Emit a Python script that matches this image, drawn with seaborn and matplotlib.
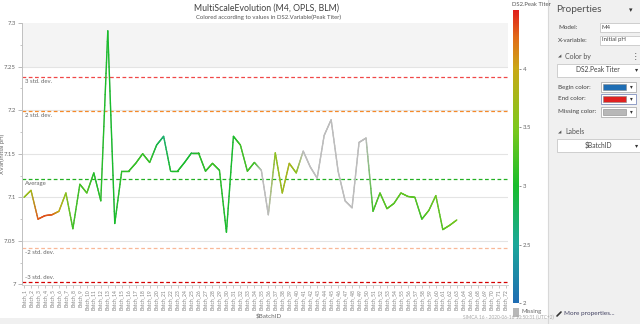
import numpy as np
import pandas as pd
import matplotlib
matplotlib.use("Agg")
import matplotlib.pyplot as plt
import seaborn as sns
from matplotlib.collections import LineCollection
from matplotlib.colors import LinearSegmentedColormap, Normalize, to_rgb
from matplotlib.cm import ScalarMappable
import matplotlib.patches as mpatches
from matplotlib.lines import Line2D

# ---------------- data ----------------
batch_numbers = list(range(1, 65)) + [66, 68, 69, 70, 71, 72]
batch_labels = [f"Batch_{n}" for n in batch_numbers]

ph_values = [
    7.100, 7.108, 7.075, 7.079, 7.080, 7.084, 7.105, 7.064, 7.115, 7.105,
    7.128, 7.096, 7.291, 7.070, 7.130, 7.130, 7.139, 7.150, 7.140, 7.160,
    7.170, 7.130, 7.130, 7.140, 7.151, 7.151, 7.130, 7.139, 7.131, 7.060,
    7.170, 7.160, 7.130, 7.140, 7.131, 7.080, 7.151, 7.105, 7.139, 7.128,
    7.153, 7.135, 7.122, 7.171, 7.189, 7.130, 7.096, 7.088, 7.163, 7.168,
    7.084, 7.105, 7.087, 7.093, 7.105, 7.101, 7.100, 7.075, 7.085, 7.102,
    7.063, 7.068, 7.074,
]
nan = float("nan")
titer_values = [
    3.6, 3.75, 4.3, 4.35, 4.3, 3.95, 3.6, 3.2, 3.2, 3.3,
    3.05, 3.1, 3.0, 3.0, 3.1, 3.15, 3.15, 3.15, 3.15, 2.9,
    2.7, 3.0, 3.05, 3.0, 2.95, 3.1, 3.1, 3.2, 3.1, 3.0,
    3.0, 3.2, 3.2, 3.2, nan, nan, 3.6, 3.7, 3.8, 3.6,
    nan, nan, nan, nan, nan, nan, nan, nan, nan, nan,
    3.2, 3.3, 3.3, 3.3, 3.35, 3.35, 3.3, 3.2, 3.35, 3.4,
    3.3, 3.4, 3.45,
]

limit_values = [7.238, 7.199, 7.1205, 7.042, 7.003]
limit_labels = ["3 std. dev.", "2 std. dev.", "Average", "-2 std. dev.", "-3 std. dev."]
limit_colors = ["#f04848", "#f58a2a", "#22b022", "#f9b898", "#d40000"]
limit_text_above = [False, False, False, False, True]

y_ticks = [7.0, 7.05, 7.1, 7.15, 7.2, 7.25, 7.3]
y_tick_labels = ["7", "7.05", "7.1", "7.15", "7.2", "7.25", "7.3"]
cbar_ticks = [2, 2.5, 3, 3.5, 4]
cbar_tick_labels = ["2", "2.5", "3", "3.5", "4"]

# ---------------- style ----------------
sns.set_theme(style="white")
plt.rcParams["font.family"] = ["Lato", "DejaVu Sans"]
plt.rcParams["text.parse_math"] = False

W, H = 640, 324
fig = plt.figure(figsize=(6.4, 3.24), dpi=100)
fig.patch.set_facecolor("white")


def fx(x):
    return x / W


def fy(y):
    return 1 - y / H


ax = fig.add_axes([fx(22), fy(284.5), (508 - 22) / W, (284.5 - 23) / H])
ax.set_facecolor("white")

df = pd.DataFrame({"pos": np.arange(len(ph_values)), "ph": ph_values, "titer": titer_values})

# shaded region above 7.25
ax.axhspan(7.25, 7.3, color="#f4f4f4", zorder=0, lw=0)

# grid
for t in y_ticks[1:-1]:
    ax.axhline(t, color="#e4e4e4", lw=0.8, zorder=0.5)

# limit lines
for val, lab, col, above in zip(limit_values, limit_labels, limit_colors, limit_text_above):
    ax.axhline(val, color=col, lw=0.9, ls=(0, (3, 2)), zorder=1)
    ax.annotate(lab, xy=(0, val), xycoords=("axes fraction", "data"),
                xytext=(2, 1.2 if above else -1.2), textcoords="offset points",
                ha="left", va="bottom" if above else "top",
                fontsize=4.3, color="#666666")

# base line (missing colour) via seaborn
missing_color = "#bdbdbd"
sns.lineplot(data=df, x="pos", y="ph", ax=ax, color=missing_color, lw=0.8, sort=False, zorder=2)

# gradient overlay
cmap = LinearSegmentedColormap.from_list(
    "peak",
    [(0.0, "#1f6cb3"), (0.2, "#1aa79a"), (0.4, "#18bd2c"), (0.6, "#7ec81c"),
     (0.8, "#c9a816"), (0.9, "#e07018"), (1.0, "#e0201c")])
norm = Normalize(2.0, 4.5)
pt_colors = []
for t in titer_values:
    if np.isnan(t):
        pt_colors.append(np.array(to_rgb(missing_color)))
    else:
        pt_colors.append(np.array(cmap(norm(t))[:3]))

segs, cols = [], []
nsub = 16
xs = df["pos"].to_numpy(dtype=float)
ys = df["ph"].to_numpy(dtype=float)
for i in range(len(xs) - 1):
    for k in range(nsub):
        t0, t1 = k / nsub, (k + 1) / nsub
        p0 = (xs[i] + (xs[i + 1] - xs[i]) * t0, ys[i] + (ys[i + 1] - ys[i]) * t0)
        p1 = (xs[i] + (xs[i + 1] - xs[i]) * t1, ys[i] + (ys[i + 1] - ys[i]) * t1)
        tm = (t0 + t1) / 2
        segs.append([p0, p1])
        cols.append(pt_colors[i] * (1 - tm) + pt_colors[i + 1] * tm)
lc = LineCollection(segs, colors=cols, linewidths=1.0, zorder=3, capstyle="round")
ax.add_collection(lc)

# axes
ax.set_xlim(-0.29, 69.34)
ax.set_ylim(7.0, 7.3)
ax.set_xticks(np.arange(len(batch_labels)))
ax.set_xticklabels(batch_labels, rotation=90, fontsize=3.6, color="#808080")
ax.set_yticks(y_ticks)
ax.set_yticklabels(y_tick_labels, fontsize=4.3, color="#666666")
ax.set_yticks(np.arange(7.025, 7.3, 0.05), minor=True)
ax.tick_params(axis="y", which="major", length=3, width=0.6, color="#b0b0b0", pad=1.5, left=True)
ax.tick_params(axis="y", which="minor", length=1.5, width=0.5, color="#b0b0b0", left=True)
ax.tick_params(axis="x", which="major", length=2, width=0.5, color="#b0b0b0", pad=1.5, bottom=True)
ax.set_xlabel("$BatchID", fontsize=4.5, color="#666666", labelpad=1)
ax.xaxis.set_label_coords(0.507, -0.108)
ax.set_ylabel("XVar(Initial pH)", fontsize=4.3, color="#666666", labelpad=2)
ax.yaxis.set_label_coords(-0.036, 0.5)
for s in ["top", "right"]:
    ax.spines[s].set_visible(False)
ax.spines["left"].set_color("#c0c0c0")
ax.spines["left"].set_linewidth(0.7)
ax.spines["bottom"].set_color("#d0d0d0")
ax.spines["bottom"].set_linewidth(0.7)
ax.grid(False)

# titles
fig.text(fx(267), fy(8), "MultiScaleEvolution (M4, OPLS, BLM)", ha="center", va="center",
         fontsize=6.3, color="#404040")
fig.text(fx(269), fy(17), "Colored according to values in DS2.Variable(Peak Titer)", ha="center",
         va="center", fontsize=4.3, color="#555555")

# colorbar
cax = fig.add_axes([fx(513), fy(303.3), (519 - 513) / W, (303.3 - 10) / H])
sm = ScalarMappable(norm=norm, cmap=cmap)
cb = fig.colorbar(sm, cax=cax)
cb.outline.set_visible(False)
cb.set_ticks(cbar_ticks)
cb.set_ticklabels(cbar_tick_labels)
cax.tick_params(labelsize=4.3, colors="#666666", length=1.5, width=0.5, pad=1.5)
fig.text(fx(511.5), fy(4.5), "DS2.Peak Titer", ha="left", va="center", fontsize=4.2, color="#555555")
fig.patches.append(mpatches.Rectangle((fx(513), fy(317)), 6 / W, 9 / H, transform=fig.transFigure,
                                      facecolor="#b8b8b8", edgecolor="none"))
fig.text(fx(521.5), fy(312), "Missing", ha="left", va="center", fontsize=4.3, color="#666666")

# bottom strip and footer
fig.patches.append(mpatches.Rectangle((0, 0), fx(548), 6 / H, transform=fig.transFigure,
                                      facecolor="#f0f0f0", edgecolor="none", zorder=-1))
fig.text(fx(463), fy(317.5), "SIMCA 16 - 2020-06-16 10:50:31 (UTC+2)", ha="left", va="center",
         fontsize=3.4, color="#a8a8a8")

# ---------------- properties panel ----------------
fig.patches.append(mpatches.Rectangle((fx(548), 0), (W - 548) / W, 1, transform=fig.transFigure,
                                      facecolor="#f0f0f0", edgecolor="none", zorder=-1))
fig.lines.append(Line2D([fx(548), fx(548)], [0, 1], transform=fig.transFigure, color="#d8d8d8", lw=0.8))

PT = "#444444"


def box(x0, y0, x1, y1, fc="white", ec="#c8c8c8", lw=0.6):
    fig.patches.append(mpatches.Rectangle((fx(x0), fy(y1)), (x1 - x0) / W, (y1 - y0) / H,
                                          transform=fig.transFigure, facecolor=fc, edgecolor=ec, lw=lw))


fig.text(fx(556), fy(10), "Properties", ha="left", va="center", fontsize=7.2, color="#505050")
fig.text(fx(631), fy(10), "▾", ha="center", va="center", fontsize=5, color="#333333")

fig.text(fx(558), fy(27.5), "Model:", ha="left", va="center", fontsize=4.5, color=PT)
box(600, 23, 641, 32)
fig.text(fx(602), fy(27.5), "M4", ha="left", va="center", fontsize=4.3, color=PT)
fig.text(fx(558), fy(40), "X-variable:", ha="left", va="center", fontsize=4.5, color=PT)
box(600, 35.5, 641, 44.5)
fig.text(fx(602), fy(40), "Initial pH", ha="left", va="center", fontsize=4.3, color=PT)

fig.text(fx(558), fy(57), "◢", ha="left", va="center", fontsize=3.2, color="#555555")
fig.text(fx(565), fy(57), "Color by", ha="left", va="center", fontsize=5, color="#555555")
fig.text(fx(635.5), fy(57), "⋮", ha="center", va="center", fontsize=5.5, color="#444444")
box(557, 63.5, 641, 76.5)
fig.text(fx(598), fy(70), "DS2.Peak Titer", ha="center", va="center", fontsize=4.8, color=PT)
fig.text(fx(637), fy(70), "▾", ha="center", va="center", fontsize=4.5, color="#333333")

swatches = [("Begin color:", 87, "#1f6eb4", "#b0b0b0"),
            ("End color:", 99, "#e02020", "#8090c0"),
            ("Missing color:", 112, "#b8b8b8", "#b0b0b0")]
for lab, yy, col, ec in swatches:
    fig.text(fx(558), fy(yy), lab, ha="left", va="center", fontsize=4.5, color=PT)
    box(601, yy - 5, 636, yy + 5, fc="white", ec=ec)
    box(603, yy - 3, 626, yy + 3, fc=col, ec="#888888", lw=0.4)
    fig.text(fx(631.5), fy(yy), "▾", ha="center", va="center", fontsize=4, color="#333333")

fig.text(fx(558), fy(132), "◢", ha="left", va="center", fontsize=3.2, color="#555555")
fig.text(fx(565), fy(132), "Labels", ha="left", va="center", fontsize=5, color="#555555")
box(557, 139, 641, 152)
fig.text(fx(598), fy(145.5), "$BatchID", ha="center", va="center", fontsize=4.8, color=PT)
fig.text(fx(637), fy(145.5), "▾", ha="center", va="center", fontsize=4.5, color="#333333")

fig.lines.append(Line2D([fx(557), fx(561)], [fy(316), fy(312)], transform=fig.transFigure,
                        color="#333333", lw=1.2))
fig.text(fx(563.5), fy(313.5), "More properties...", ha="left", va="center", fontsize=4.6, color="#404060")

fig.savefig("out.png", dpi=100, facecolor="white")
